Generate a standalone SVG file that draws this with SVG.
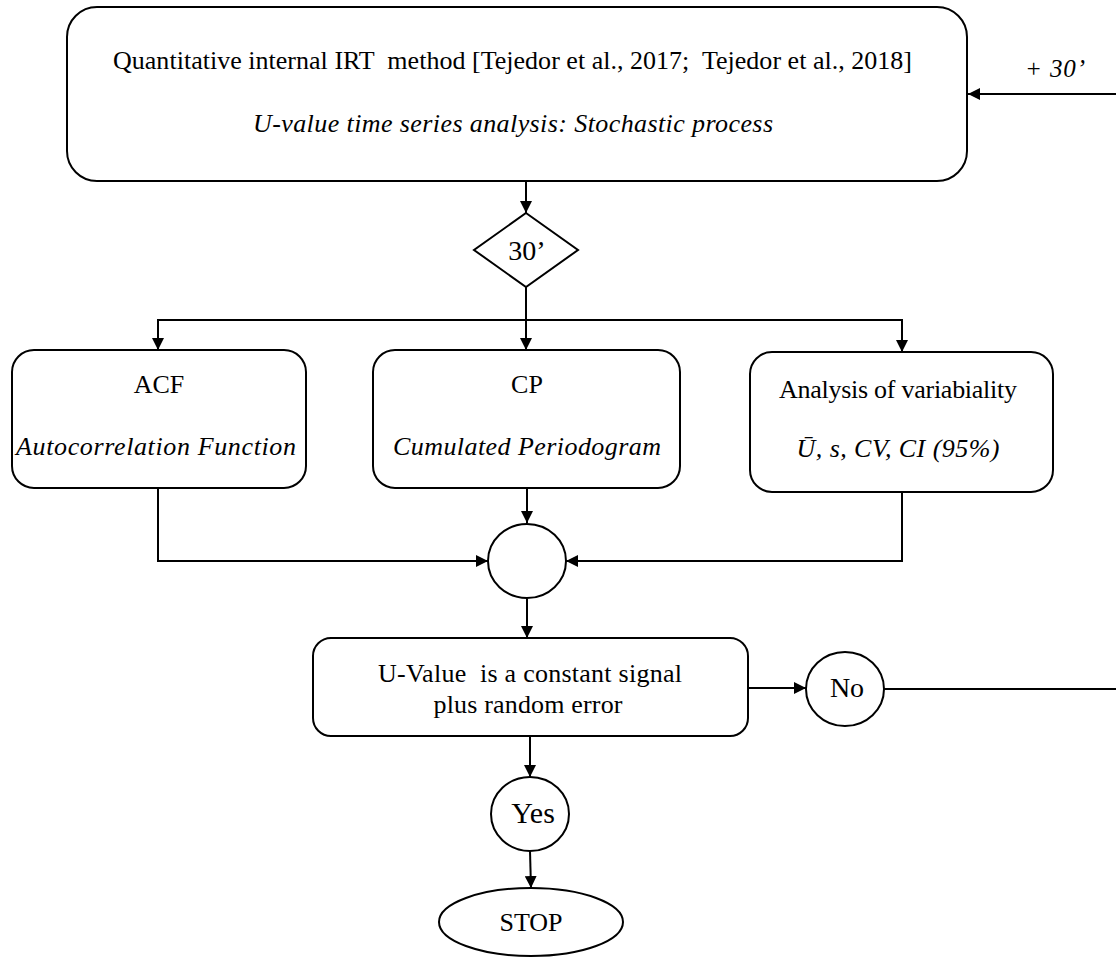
<svg xmlns="http://www.w3.org/2000/svg" width="1116" height="957" viewBox="0 0 1116 957">
<style>
.s{fill:#fff;stroke:#000;stroke-width:2}
.c{fill:none;stroke:#000;stroke-width:2}
text{font-family:"Liberation Serif","Times New Roman",serif;font-size:26px;fill:#000}
.i{font-style:italic}
.m{text-anchor:middle}
</style>
<defs>
<marker id="ah" viewBox="0 0 12 12" refX="12" refY="6" markerWidth="12" markerHeight="12" markerUnits="userSpaceOnUse" orient="auto">
<path d="M0,0 L12,6 L0,12 Z" fill="#000"/>
</marker>
</defs>
<g id="connectors">
<path class="c" d="M1116,94 L968,94" marker-end="url(#ah)"/>
<path class="c" d="M526,181 L526,213" marker-end="url(#ah)"/>
<path class="c" d="M526,287 L526,350" marker-end="url(#ah)"/>
<path class="c" d="M526,320 L158,320 L158,350" marker-end="url(#ah)"/>
<path class="c" d="M526,320 L902,320 L902,352" marker-end="url(#ah)"/>
<path class="c" d="M158,488 L158,561 L488,561" marker-end="url(#ah)"/>
<path class="c" d="M527,488 L527,523" marker-end="url(#ah)"/>
<path class="c" d="M902,492 L902,561 L566,561" marker-end="url(#ah)"/>
<path class="c" d="M527,599 L527,638" marker-end="url(#ah)"/>
<path class="c" d="M748,688 L806,688" marker-end="url(#ah)"/>
<path class="c" d="M884,689 L1116,689"/>
<path class="c" d="M530,736 L530,777" marker-end="url(#ah)"/>
<path class="c" d="M530,851 L531,888" marker-end="url(#ah)"/>
<text class="i" x="1025" y="77" style="font-size:25px" textLength="60" xml:space="preserve">+ 30’</text>
</g>
<g id="top">
<rect class="s" x="67" y="7" width="900" height="174" rx="30"/>
<text x="113" y="69" textLength="799" xml:space="preserve">Quantitative internal IRT  method [Tejedor et al., 2017;  Tejedor et al., 2018]</text>
<text class="i" x="253" y="132" textLength="520">U-value time series analysis: Stochastic process</text>
</g>
<g id="diamond">
<path class="s" d="M526,213 L578,250 L526,287 L474,250 Z"/>
<text class="m" x="527" y="260" style="font-size:28px">30’</text>
</g>
<g id="acf">
<rect class="s" x="12" y="350" width="294" height="138" rx="22"/>
<text class="m" x="159" y="393">ACF</text>
<text class="i m" x="156" y="455" textLength="280">Autocorrelation Function</text>
</g>
<g id="cp">
<rect class="s" x="373" y="350" width="307" height="138" rx="22"/>
<text class="m" x="527" y="393">CP</text>
<text class="i m" x="527" y="455" textLength="268">Cumulated Periodogram</text>
</g>
<g id="var">
<rect class="s" x="750" y="352" width="303" height="140" rx="22"/>
<text class="m" x="898" y="398" textLength="238">Analysis of variabiality</text>
<text class="i m" x="898" y="457" textLength="203">Ū, s, CV, CI (95%)</text>
</g>
<g id="join">
<ellipse class="s" cx="527" cy="561" rx="39" ry="37"/>
</g>
<g id="uvalue">
<rect class="s" x="313" y="638" width="435" height="98" rx="18"/>
<text class="m" x="530" y="682" textLength="304" xml:space="preserve">U-Value  is a constant signal</text>
<text class="m" x="528" y="713" textLength="189">plus random error</text>
</g>
<g id="no">
<ellipse class="s" cx="845" cy="689" rx="39" ry="37"/>
<text class="m" x="847" y="697" style="font-size:28px">No</text>
</g>
<g id="yes">
<ellipse class="s" cx="530" cy="814" rx="39" ry="37"/>
<text class="m" x="533" y="823" style="font-size:30px">Yes</text>
</g>
<g id="stop">
<ellipse class="s" cx="531" cy="922" rx="92" ry="34"/>
<text class="m" x="531" y="931">STOP</text>
</g>
</svg>
